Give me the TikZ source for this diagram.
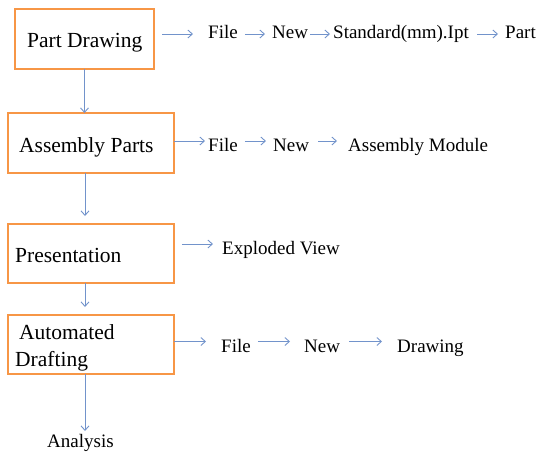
\documentclass[tikz,border=0pt]{standalone}
\usepackage{fontspec}
\setmainfont{Liberation Serif}
\usetikzlibrary{arrows.meta,calc}
\definecolor{boxorange}{RGB}{247,150,70}
\definecolor{arrblue}{RGB}{114,147,203}
\begin{document}
\begin{tikzpicture}[x=1pt,y=-1pt,
  stagebox/.style={draw=boxorange, line width=2.5pt, fill=white, inner sep=0pt, outer sep=0pt, minimum height=60pt},
  boxtext/.style={font=\fontsize{21.5}{24}\selectfont, anchor=base west, inner sep=0pt},
  sidetext/.style={font=\fontsize{19}{22}\selectfont, anchor=base west, inner sep=0pt},
  arr/.style={draw=arrblue, line width=0.9pt, -{Straight Barb[length=4.5pt,width=8pt]}}
]
\useasboundingbox (0,0) rectangle (540,456);
% boxes
\node[stagebox, minimum width=139pt] (b1) at (84.5,39) {};
\node[stagebox, minimum width=165.6pt] (b2) at (91,143) {};
\node[stagebox, minimum width=165.6pt, minimum height=59pt] (b3) at (91,253.5) {};
\node[stagebox, minimum width=165.6pt, minimum height=59pt] (b4) at (91,344.5) {};
% box texts
\node[boxtext] (t1) at (27,47) {Part Drawing};
\node[boxtext] (t2) at (19,152) {Assembly Parts};
\node[boxtext] (t3) at (15,262) {Presentation};
\node[boxtext] (t4a) at (19,339) {Automated};
\node[boxtext] (t4b) at (15,366) {Drafting};
\node[sidetext] (an) at (47,447) {Analysis};
\coordinate (col) at (85,0);
% vertical arrows
\draw[arr] (b1.south) -- (b1.south |- b2.north);
\draw[arr] (b2.south -| col) -- ($(b3.north -| col)+(0,-8)$);
\draw[arr] (b3.south -| col) -- ($(b4.north -| col)+(0,-8)$);
\draw[arr] (b4.south -| col) -- ($(an.base west -| col)+(0,-16)$);
% row 1
\node[sidetext] (f1) at (208,38.5) {File};
\node[sidetext] (n1) at (272,38.5) {New};
\node[sidetext] (s1) at (333,38.5) {Standard(mm).Ipt};
\node[sidetext] (p1) at (505,38.5) {Part};
\draw[arr] ($(b1.east)+(8,-5)$) -- ($(f1.base west)+(-15,-4.5)$);
\draw[arr] ($(f1.base east)+(7,-4.5)$) -- ($(n1.base west)+(-7,-4.5)$);
\draw[arr] ($(n1.base east)+(2,-4.5)$) -- ($(s1.base west)+(-3,-4.5)$);
\draw[arr] ($(s1.base east)+(8,-4.5)$) -- ($(p1.base west)+(-7,-4.5)$);
% row 2
\node[sidetext] (f2) at (208,151) {File};
\node[sidetext] (n2) at (273,151) {New};
\node[sidetext] (m2) at (348,151) {Assembly Module};
\draw[arr] ($(b2.east)+(0,-2)$) -- ($(f2.base west)+(-3,-10)$);
\draw[arr] ($(f2.base east)+(7,-10)$) -- ($(n2.base west)+(-7,-10)$);
\draw[arr] ($(n2.base east)+(9,-10)$) -- ($(m2.base west)+(-11,-10)$);
% row 3
\node[sidetext] (e3) at (222,254) {Exploded View};
\draw[arr] ($(b3.east)+(8,-9.5)$) -- ($(e3.base west)+(-9,-10)$);
% row 4
\node[sidetext] (f4) at (221,352) {File};
\node[sidetext] (n4) at (304,352) {New};
\node[sidetext] (d4) at (397,352) {Drawing};
\draw[arr] ($(b4.east)+(0,-3)$) -- ($(f4.base west)+(-15,-10.5)$);
\draw[arr] ($(f4.base east)+(7,-10.5)$) -- ($(n4.base west)+(-14,-10.5)$);
\draw[arr] ($(n4.base east)+(9,-10.5)$) -- ($(d4.base west)+(-15,-10.5)$);
\end{tikzpicture}
\end{document}
